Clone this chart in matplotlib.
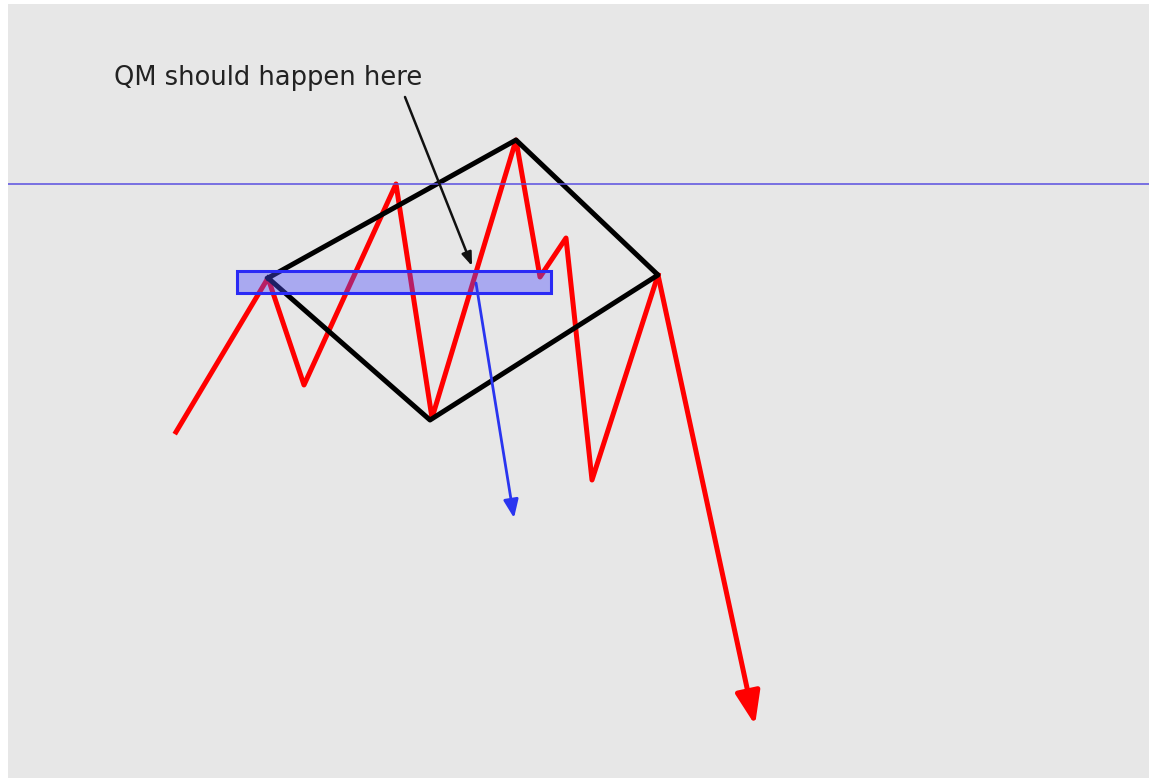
import matplotlib
matplotlib.use("Agg")
import matplotlib.pyplot as plt
from matplotlib.patches import Rectangle

# price path (pixel-like coordinates, y grows downward)
price_x = [176, 268, 304, 396, 432, 516, 540, 566, 592, 658]
price_y = [432, 278, 385, 184, 418, 140, 277, 238, 480, 275]
price_target = (755, 725)

# quasimodo box
qm_x = [268, 516, 658, 430, 268]
qm_y = [278, 140, 275, 420, 278]

level_y = 184
zone_x = [237, 551]
zone_y = [271, 293]
blue_start = (476, 283)
blue_end = (514, 518)

label = "QM should happen here"
label_pos = (268, 78)
label_arrow_start = (405, 97)
label_target = (472, 266)

fig = plt.figure(figsize=(11.57, 7.78), dpi=100)
ax = fig.add_axes([8 / 1157, 0, 1141 / 1157, 774 / 778])
ax.set_facecolor("#e7e7e7")
ax.set_xlim(8, 1149)
ax.set_ylim(778, 4)
ax.set_xticks([])
ax.set_yticks([])
for s in ax.spines.values():
    s.set_visible(False)

ax.plot(price_x, price_y, color="red", lw=3.6, solid_joinstyle="round", zorder=2)
ax.annotate("", xy=price_target, xytext=(price_x[-1], price_y[-1]),
            arrowprops=dict(arrowstyle="-|>,head_length=2.0,head_width=0.75",
                            color="red", lw=3.6, shrinkA=0, shrinkB=0), zorder=2)

ax.plot(qm_x, qm_y, color="black", lw=3.6, solid_joinstyle="round", zorder=3)

ax.axhline(level_y, color="#5a4fe0", lw=1.1, zorder=4)

ax.add_patch(Rectangle((zone_x[0], zone_y[0]), zone_x[1] - zone_x[0], zone_y[1] - zone_y[0],
                       facecolor=(0.3, 0.3, 1.0, 0.4), edgecolor="#2a2af5", lw=2.2, zorder=5))

ax.annotate("", xy=blue_end, xytext=blue_start,
            arrowprops=dict(arrowstyle="-|>,head_length=1.1,head_width=0.45",
                            color="#2a35f0", lw=2.0, shrinkA=0, shrinkB=0), zorder=5)

ax.text(label_pos[0], label_pos[1], label, fontsize=18.5, color="#222222",
        ha="center", va="center", zorder=6)
ax.annotate("", xy=label_target, xytext=label_arrow_start,
            arrowprops=dict(arrowstyle="-|>,head_length=0.8,head_width=0.3",
                            color="#111111", lw=1.8, shrinkA=0, shrinkB=0), zorder=6)

fig.savefig("out.png", dpi=100, facecolor="white")
